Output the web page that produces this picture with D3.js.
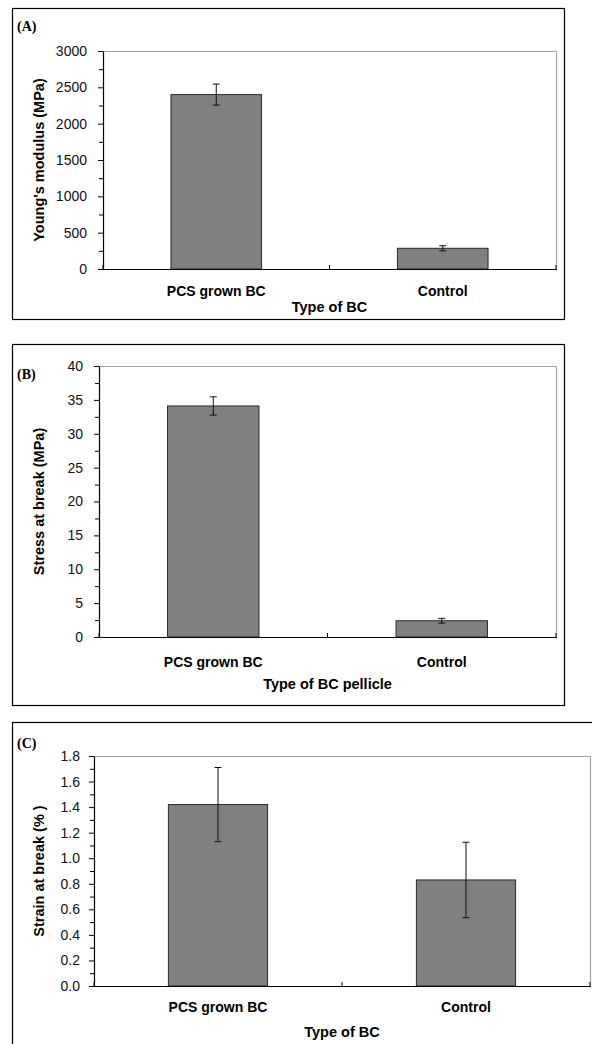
<!DOCTYPE html>
<html>
<head>
<meta charset="utf-8">
<script src="https://cdn.jsdelivr.net/npm/d3@7"></script>
<style>
  body { margin: 0; background: #fff; }
  svg { display: block; }
  .tick text { font-family: "Liberation Sans", Arial, sans-serif; font-size: 14px; fill: #111; }
  .cat { font-family: "Liberation Sans", Arial, sans-serif; font-size: 14px; font-weight: bold; fill: #000; }
  .ttl { font-family: "Liberation Sans", Arial, sans-serif; font-size: 14.5px; font-weight: bold; fill: #000; }
  .tag { font-family: "Liberation Serif", "Times New Roman", serif; font-size: 14px; font-weight: bold; fill: #000; }
</style>
</head>
<body>
<script>
// values
const categories = ['PCS grown BC', 'Control'];

const modulusMean = [2400, 285];
const modulusErr = [145, 35];
const modulusTicks = [0, 500, 1000, 1500, 2000, 2500, 3000];

const stressMean = [34.1, 2.4];
const stressErr = [1.35, 0.35];
const stressTicks = [0, 5, 10, 15, 20, 25, 30, 35, 40];

const strainMean = [1.42, 0.83];
const strainErr = [0.29, 0.295];
const strainTicks = [0, 0.2, 0.4, 0.6, 0.8, 1.0, 1.2, 1.4, 1.6, 1.8];

const width = 592;
const height = 1044;

const svg = d3.select('body')
  .append('svg')
  .attr('width', width)
  .attr('height', height);

function drawPanel(p) {
  const g = svg.append('g').attr('class', 'panel');

  // outer frame
  g.append('rect')
    .attr('x', p.box[0] + 0.5)
    .attr('y', p.box[1] + 0.5)
    .attr('width', p.box[2] - p.box[0])
    .attr('height', p.box[3] - p.box[1])
    .attr('fill', 'none')
    .attr('stroke', '#000')
    .attr('stroke-width', 1.2);

  const x = d3.scaleBand()
    .domain(categories)
    .range([p.left, p.right])
    .paddingInner(0)
    .paddingOuter(0);

  const y = d3.scaleLinear()
    .domain([0, p.ticks[p.ticks.length - 1]])
    .range([p.bottom, p.top]);

  // plot area top and right border (grey)
  g.append('path')
    .attr('d', `M${p.left},${p.top + 0.5}H${p.right + 0.5}V${p.bottom}`)
    .attr('fill', 'none')
    .attr('stroke', '#a6a6a6')
    .attr('stroke-width', 1.2);

  const rows = categories.map((c, i) => ({cat: c, v: p.mean[i], e: p.err[i]}));
  const bw = x.bandwidth() * 0.4;

  g.selectAll('rect.bar')
    .data(rows)
    .enter()
    .append('rect')
    .attr('class', 'bar')
    .attr('x', d => x(d.cat) + (x.bandwidth() - bw) / 2)
    .attr('y', d => y(d.v))
    .attr('width', bw)
    .attr('height', d => y(0) - y(d.v))
    .style('fill', '#808080')
    .style('stroke', '#2a2a2a')
    .style('stroke-width', 1);

  // error bars
  const eb = g.selectAll('g.err')
    .data(rows)
    .enter()
    .append('g')
    .attr('class', 'err')
    .style('stroke', '#111')
    .style('stroke-width', 1);
  const cx = d => x(d.cat) + x.bandwidth() / 2;
  eb.append('line')
    .attr('x1', cx).attr('x2', cx)
    .attr('y1', d => y(d.v + d.e)).attr('y2', d => y(d.v - d.e));
  eb.append('line')
    .attr('x1', d => cx(d) - 3.5).attr('x2', d => cx(d) + 3.5)
    .attr('y1', d => y(d.v + d.e)).attr('y2', d => y(d.v + d.e));
  eb.append('line')
    .attr('x1', d => cx(d) - 3.5).attr('x2', d => cx(d) + 3.5)
    .attr('y1', d => y(d.v - d.e)).attr('y2', d => y(d.v - d.e));

  // minor ticks on y axis
  const step = p.ticks[1] - p.ticks[0];
  const minor = p.ticks.slice(1).map(t => t - step / 2);
  g.append('g')
    .attr('transform', `translate(${p.left},0)`)
    .call(d3.axisLeft(y).tickValues(minor).tickSize(4).tickFormat(''))
    .call(a => a.select('.domain').remove())
    .selectAll('line').attr('stroke', '#000');

  // y axis
  const yAxis = g.append('g')
    .attr('transform', `translate(${p.left},0)`)
    .call(d3.axisLeft(y).tickValues(p.ticks).tickSize(5).tickSizeOuter(0).tickPadding(p.gap).tickFormat(p.fmt));
  yAxis.select('.domain').attr('stroke', '#000').attr('stroke-width', 1.2);
  yAxis.selectAll('line').attr('stroke', '#000');

  // x axis: ticks between categories, pointing up
  const edges = [p.left, (p.left + p.right) / 2, p.right];
  g.append('line')
    .attr('x1', p.left).attr('x2', p.right + 1)
    .attr('y1', p.bottom + 0.5).attr('y2', p.bottom + 0.5)
    .attr('stroke', '#000').attr('stroke-width', 1.2);
  g.selectAll('line.xt')
    .data(edges)
    .enter()
    .append('line')
    .attr('class', 'xt')
    .attr('x1', d => d).attr('x2', d => d)
    .attr('y1', p.bottom).attr('y2', p.bottom - 4)
    .attr('stroke', '#000');

  // category labels
  g.selectAll('text.cat')
    .data(categories)
    .enter()
    .append('text')
    .attr('class', 'cat')
    .attr('x', d => x(d) + x.bandwidth() / 2)
    .attr('y', p.catY)
    .attr('text-anchor', 'middle')
    .text(d => d);

  g.append('text')
    .attr('class', 'ttl')
    .attr('x', (p.left + p.right) / 2)
    .attr('y', p.xTitleY)
    .attr('text-anchor', 'middle')
    .text(p.xTitle);

  g.append('text')
    .attr('class', 'ttl')
    .attr('transform', `translate(${p.yTitleX},${(p.top + p.bottom) / 2}) rotate(-90)`)
    .attr('text-anchor', 'middle')
    .text(p.yTitle);

  g.append('text')
    .attr('class', 'tag')
    .attr('x', 17)
    .attr('y', p.tagY)
    .text(p.tag);
}

drawPanel({
  box: [12, 8, 564, 319],
  left: 103, right: 556, top: 51, bottom: 269,
  mean: modulusMean, err: modulusErr, ticks: modulusTicks,
  fmt: d3.format('d'), gap: 11,
  catY: 296, xTitleY: 312, xTitle: 'Type of BC',
  yTitleX: 44, yTitle: "Young's modulus (MPa)",
  tag: '(A)', tagY: 31
});

drawPanel({
  box: [12, 344, 564, 705],
  left: 99, right: 556, top: 366, bottom: 637,
  mean: stressMean, err: stressErr, ticks: stressTicks,
  fmt: d3.format('d'), gap: 11,
  catY: 667, xTitleY: 689, xTitle: 'Type of BC pellicle',
  yTitleX: 44, yTitle: 'Stress at break  (MPa)',
  tag: '(B)', tagY: 379
});

drawPanel({
  box: [12, 722, 620, 1060],
  left: 94, right: 590, top: 756, bottom: 986,
  mean: strainMean, err: strainErr, ticks: strainTicks,
  fmt: d3.format('.1f'), gap: 9,
  catY: 1012, xTitleY: 1037, xTitle: 'Type of BC',
  yTitleX: 44, yTitle: 'Strain at break (% )',
  tag: '(C)', tagY: 748
});
</script>
</body>
</html>
